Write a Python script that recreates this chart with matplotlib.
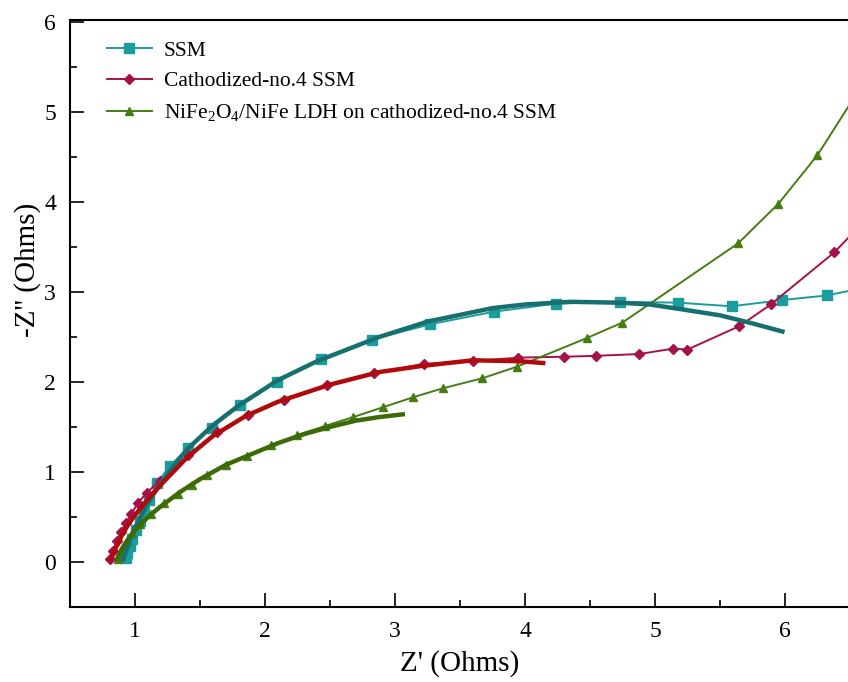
import matplotlib
matplotlib.use("Agg")
import matplotlib.pyplot as plt
from matplotlib.ticker import MultipleLocator

plt.rcParams["font.family"] = ["Liberation Serif", "DejaVu Serif"]
plt.rcParams["mathtext.fontset"] = "custom"
plt.rcParams["mathtext.rm"] = "Liberation Serif"
plt.rcParams["mathtext.it"] = "Liberation Serif:italic"

# Measured impedance (Nyquist) data
ssm_re = [0.93, 0.94, 0.96, 0.98, 1.01, 1.04, 1.07, 1.11, 1.17, 1.27, 1.41, 1.59,
          1.81, 2.09, 2.43, 2.82, 3.27, 3.76, 4.24, 4.73, 5.18, 5.59, 5.98, 6.32, 6.62]
ssm_im = [0.04, 0.10, 0.18, 0.26, 0.36, 0.46, 0.57, 0.69, 0.88, 1.07, 1.27, 1.49,
          1.74, 2.00, 2.25, 2.47, 2.64, 2.78, 2.87, 2.89, 2.88, 2.84, 2.91, 2.96, 3.05]

cath_re = [0.81, 0.83, 0.86, 0.89, 0.93, 0.97, 1.02, 1.09, 1.19, 1.41, 1.63, 1.87,
           2.15, 2.48, 2.84, 3.22, 3.60, 3.95, 4.30, 4.55, 4.88, 5.14, 5.25, 5.65,
           5.89, 6.38, 6.62]
cath_im = [0.03, 0.12, 0.23, 0.33, 0.43, 0.53, 0.65, 0.77, 0.90, 1.19, 1.44, 1.63,
           1.80, 1.97, 2.10, 2.20, 2.23, 2.27, 2.28, 2.29, 2.31, 2.37, 2.36, 2.62,
           2.86, 3.44, 3.80]

ldh_re = [0.87, 0.89, 0.91, 0.94, 0.98, 1.04, 1.12, 1.22, 1.33, 1.44, 1.55, 1.70,
          1.86, 2.05, 2.25, 2.46, 2.68, 2.91, 3.14, 3.37, 3.67, 3.94, 4.48, 4.75,
          5.64, 5.95, 6.25, 6.55]
ldh_im = [0.03, 0.08, 0.15, 0.23, 0.32, 0.42, 0.53, 0.65, 0.76, 0.86, 0.97, 1.08,
          1.18, 1.30, 1.41, 1.51, 1.61, 1.72, 1.83, 1.93, 2.04, 2.17, 2.49, 2.66,
          3.54, 3.98, 4.52, 5.20]

# Equivalent-circuit fitted curves
ssm_fit_re = [0.91, 0.95, 1.00, 1.05, 1.10, 1.20, 1.30, 1.40, 1.60, 1.80, 2.10, 2.40,
              2.88, 3.25, 3.75, 4.00, 4.35, 4.73, 4.96, 5.19, 5.50, 5.75, 5.98]
ssm_fit_im = [0.03, 0.20, 0.38, 0.52, 0.66, 0.88, 1.07, 1.25, 1.52, 1.74, 2.02, 2.23,
              2.50, 2.67, 2.82, 2.86, 2.89, 2.88, 2.86, 2.81, 2.74, 2.65, 2.56]

cath_fit_re = [0.81, 0.85, 0.90, 0.95, 1.00, 1.10, 1.20, 1.40, 1.60, 1.85, 2.10, 2.50,
               2.88, 3.22, 3.60, 3.96, 4.14]
cath_fit_im = [0.03, 0.15, 0.30, 0.42, 0.52, 0.70, 0.86, 1.16, 1.40, 1.62, 1.78, 1.97,
               2.11, 2.18, 2.24, 2.23, 2.21]

ldh_fit_re = [0.86, 0.90, 0.95, 1.00, 1.10, 1.20, 1.35, 1.50, 1.70, 1.90, 2.10, 2.30,
              2.50, 2.70, 2.88, 3.06]
ldh_fit_im = [0.03, 0.15, 0.26, 0.35, 0.50, 0.62, 0.78, 0.92, 1.08, 1.20, 1.32, 1.42,
              1.50, 1.57, 1.61, 1.64]

labels = ["SSM", "Cathodized-no.4 SSM",
          r"NiFe$_\mathrm{2}$O$_\mathrm{4}$/NiFe LDH on cathodized-no.4 SSM"]

fig = plt.figure(figsize=(8.48, 6.82), dpi=100)
ax = fig.add_axes([70 / 848, 75 / 682, 780 / 848, 587 / 682])

c_ssm, c_ssm_fit = "#1c9d9d", "#17706f"
c_cath, c_cath_fit = "#a5124b", "#b00a0a"
c_ldh, c_ldh_fit = "#457d12", "#3b6a06"

ax.plot(ssm_re, ssm_im, "-s", color=c_ssm, lw=1.4, ms=7, label=labels[0], zorder=2)
ax.plot(cath_re, cath_im, "-D", color=c_cath, lw=1.4, ms=5.5, label=labels[1], zorder=2)
ax.plot(ldh_re, ldh_im, "-^", color=c_ldh, lw=1.4, ms=6, label=labels[2], zorder=2)

ax.plot(ssm_fit_re, ssm_fit_im, "-", color=c_ssm_fit, lw=3.2, zorder=3)
ax.plot(cath_fit_re, cath_fit_im, "-", color=c_cath_fit, lw=3.2, zorder=3)
ax.plot(ldh_fit_re, ldh_fit_im, "-", color=c_ldh_fit, lw=3.2, zorder=3)

ax.set_xlim(0.5, 6.5)
ax.set_ylim(-0.5, 6.02)
ax.xaxis.set_major_locator(MultipleLocator(1))
ax.xaxis.set_minor_locator(MultipleLocator(0.5))
ax.yaxis.set_major_locator(MultipleLocator(1))
ax.yaxis.set_minor_locator(MultipleLocator(0.5))
ax.tick_params(which="both", direction="in", top=False, right=False, width=1.2,
               labelsize=17)
ax.tick_params(which="major", length=10, pad=10)
ax.tick_params(which="minor", length=5)
for s in ax.spines.values():
    s.set_linewidth(1.5)

ax.set_xlabel("Z' (Ohms)", fontsize=21, labelpad=6)
ax.set_ylabel("-Z'' (Ohms)", fontsize=21)
ax.yaxis.set_label_coords(-0.037, 0.574)

ax.legend(loc="upper left", bbox_to_anchor=(0.022, 0.998), frameon=False,
          fontsize=15.5, handlelength=2.1, handletextpad=0.55, labelspacing=0.5)

fig.savefig("out.png", dpi=100)
